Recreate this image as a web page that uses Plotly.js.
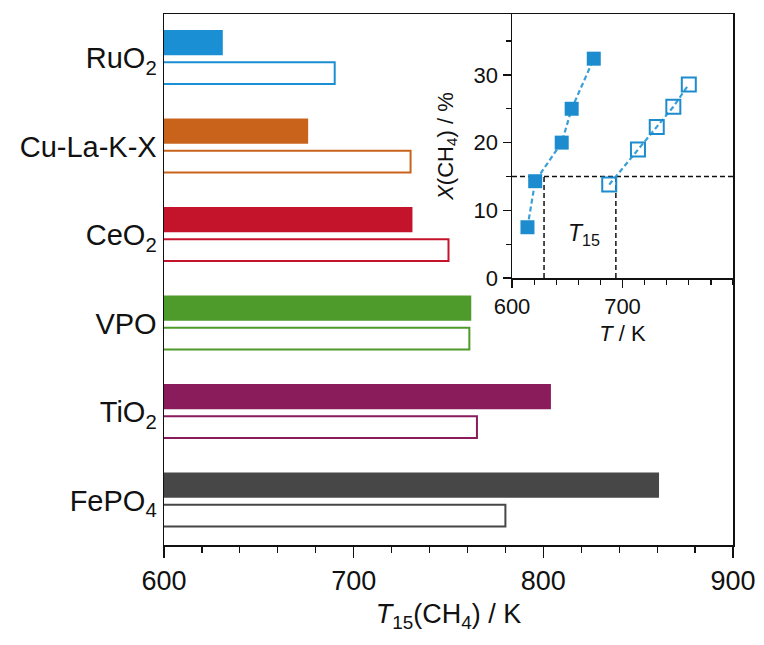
<!DOCTYPE html>
<html>
<head>
<meta charset="utf-8">
<script src="https://cdn.plot.ly/plotly-3.0.1.min.js"></script>
<style>
html,body{margin:0;padding:0;background:#fff;}
#chart{width:764px;height:645px;}
</style>
</head>
<body>
<div id="chart"></div>
<script>
// ---- main chart data ----
const catalysts = ['RuO<sub>2</sub>', 'Cu-La-K-X', 'CeO<sub>2</sub>', 'VPO', 'TiO<sub>2</sub>', 'FePO<sub>4</sub>'];
const t15Filled = [631, 676, 731, 762, 804, 861];
const t15Open   = [690, 730, 750, 761, 765, 780];
const barColors = ['#1b8fd4', '#c9631c', '#c3142c', '#4e9a2b', '#8a1c5c', '#474747'];

// ---- inset data (RuO2 conversion curves) ----
const insetTFilled = [614, 621, 645, 654, 674];
const insetXFilled = [7.5, 14.3, 20.0, 25.0, 32.4];
const insetTOpen   = [688, 714, 731, 746, 760];
const insetXOpen   = [13.8, 19.0, 22.3, 25.3, 28.6];
const insetT15     = [629, 694];
const thresholdX   = 15;
const insetTRange  = [600, 800];

const catIdx = catalysts.map((_, i) => i);
const FONT = 'Liberation Sans, Arial, sans-serif';
const insetBlue = '#1d8ccf';
const dashBlue = '#3a9fd6';

const traces = [
  {
    type: 'bar', orientation: 'h', x: t15Filled, y: catIdx,
    width: 0.285, offset: -0.32,
    marker: {color: barColors, line: {width: 0}},
    hoverinfo: 'x', showlegend: false
  },
  {
    type: 'bar', orientation: 'h', x: t15Open, y: catIdx,
    width: 0.245, offset: 0.045,
    marker: {color: '#ffffff', line: {color: barColors, width: 2}},
    hoverinfo: 'x', showlegend: false
  },
  // inset threshold line
  {
    type: 'scatter', mode: 'lines', xaxis: 'x2', yaxis: 'y2',
    x: insetTRange, y: [thresholdX, thresholdX],
    line: {color: '#111', width: 1.5, dash: '5px,3px'}, showlegend: false, hoverinfo: 'skip'
  },
  {
    type: 'scatter', mode: 'lines', xaxis: 'x2', yaxis: 'y2',
    x: [insetT15[0], insetT15[0]], y: [0, thresholdX],
    line: {color: '#111', width: 1.5, dash: '5px,3px'}, showlegend: false, hoverinfo: 'skip'
  },
  {
    type: 'scatter', mode: 'lines', xaxis: 'x2', yaxis: 'y2',
    x: [insetT15[1], insetT15[1]], y: [0, thresholdX],
    line: {color: '#111', width: 1.5, dash: '5px,3px'}, showlegend: false, hoverinfo: 'skip'
  },
  {
    type: 'scatter', mode: 'lines+markers', xaxis: 'x2', yaxis: 'y2',
    x: insetTFilled, y: insetXFilled,
    line: {color: dashBlue, width: 2.2, dash: '5px,3px'},
    marker: {symbol: 'square', size: 14, color: insetBlue},
    showlegend: false
  },
  {
    type: 'scatter', mode: 'lines+markers', xaxis: 'x2', yaxis: 'y2',
    x: insetTOpen, y: insetXOpen,
    line: {color: dashBlue, width: 2.2, dash: '5px,3px'},
    marker: {symbol: 'square-open', size: 14, color: insetBlue, line: {width: 2}},
    showlegend: false
  }
];

const layout = {
  width: 764, height: 645,
  margin: {l: 164, r: 31, t: 14, b: 100},
  paper_bgcolor: '#ffffff', plot_bgcolor: 'rgba(0,0,0,0)',
  font: {family: FONT, color: '#111'},
  showlegend: false,
  barmode: 'overlay',
  xaxis: {
    domain: [0, 1], range: [600, 900], dtick: 100,
    showgrid: false, zeroline: false,
    showline: true, linecolor: '#111', linewidth: 1.5, mirror: true,
    ticks: 'outside', ticklen: 11, tickwidth: 1.5, tickcolor: '#111',
    minor: {dtick: 20, ticks: 'outside', ticklen: 6, tickwidth: 1.2, tickcolor: '#111'},
    tickfont: {size: 27, family: FONT, color: '#111'},
    title: {text: '<i>T</i><sub>15</sub>(CH<sub>4</sub>) / K', font: {size: 27, family: FONT, color: '#111'}, standoff: 9}
  },
  yaxis: {
    domain: [0, 1], range: [5.5, -0.5],
    tickvals: catIdx, ticktext: catalysts,
    showgrid: false, zeroline: false,
    showline: true, linecolor: '#111', linewidth: 1.5, mirror: true,
    ticks: '', ticklen: 0,
    tickfont: {size: 29, family: FONT, color: '#111'}
  },
  xaxis2: {
    domain: [0.6116, 1], anchor: 'y2', range: insetTRange,
    tickvals: [600, 700], showgrid: false, zeroline: false,
    showline: true, linecolor: '#111', linewidth: 1.5,
    ticks: 'outside', ticklen: 8, tickwidth: 1.5, tickcolor: '#111',
    minor: {dtick: 20, ticks: 'outside', ticklen: 5, tickwidth: 1.2, tickcolor: '#111'},
    tickfont: {size: 22, family: FONT, color: '#111'},
    title: {text: '<i>T</i> / K', font: {size: 22, family: FONT, color: '#111'}, standoff: 7}
  },
  yaxis2: {
    domain: [0.5028, 1], anchor: 'x2', range: [0, 39],
    tickvals: [0, 10, 20, 30], showgrid: false, zeroline: false,
    showline: true, linecolor: '#111', linewidth: 1.5,
    ticks: 'outside', ticklen: 8, tickwidth: 1.5, tickcolor: '#111',
    minor: {dtick: 5, ticks: 'outside', ticklen: 5, tickwidth: 1.2, tickcolor: '#111'},
    tickfont: {size: 22, family: FONT, color: '#111'},
    title: {text: '<i>X</i>(CH<sub>4</sub>) / %', font: {size: 22, family: FONT, color: '#111'}, standoff: 14}
  },
  annotations: [
    {
      xref: 'x2', yref: 'y2', x: 665, y: 6.5, showarrow: false,
      text: '<i>T</i><sub>15</sub>', font: {size: 23, family: FONT, color: '#111'}
    }
  ]
};

Plotly.newPlot('chart', traces, layout, {displayModeBar: false, staticPlot: true});
</script>
</body>
</html>
